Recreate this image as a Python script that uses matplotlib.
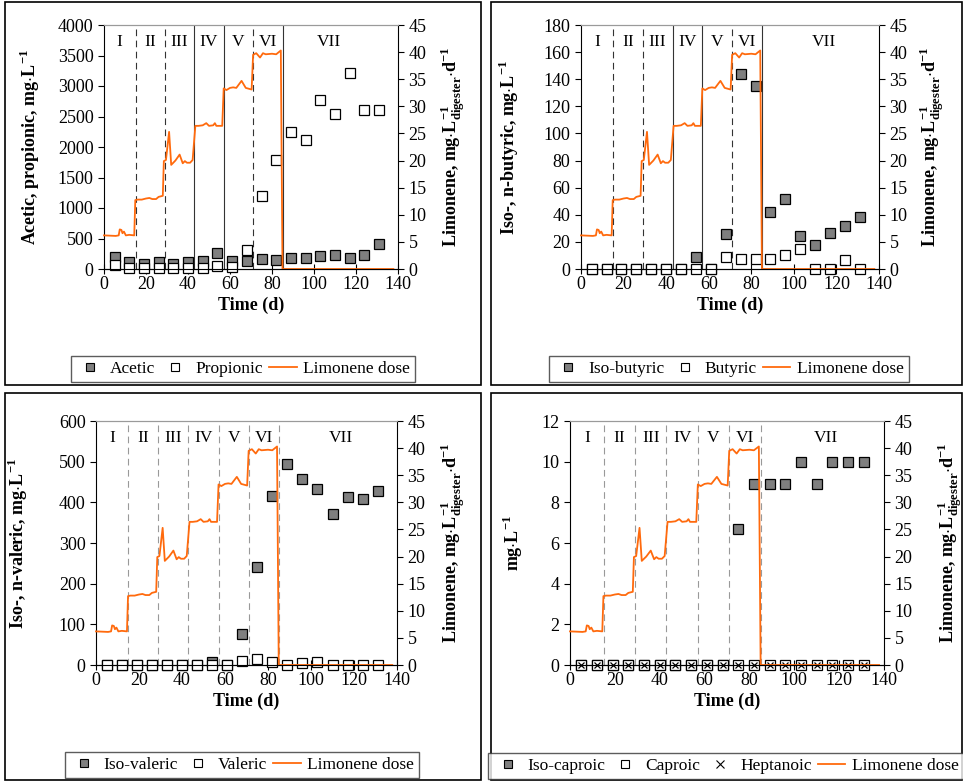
import matplotlib
matplotlib.use('Agg')
import matplotlib.pyplot as plt
from matplotlib.lines import Line2D
from matplotlib.patches import Rectangle

plt.rcParams['font.family'] = ['Liberation Serif', 'DejaVu Serif']
plt.rcParams['mathtext.fontset'] = 'custom'
plt.rcParams['mathtext.rm'] = 'Liberation Serif'
plt.rcParams['mathtext.bf'] = 'Liberation Serif:bold'
plt.rcParams['axes.unicode_minus'] = True

W, H = 963, 782

# sampling days (same for all acids)
days = [5, 12, 19, 26, 33, 40, 47, 54, 61, 68, 75, 82, 89, 96, 103, 110, 117, 124, 131]

acetic = [190, 110, 80, 110, 80, 110, 130, 270, 130, 130, 165, 155, 175, 175, 215, 225, 175, 225, 405]
propionic = [65, 10, 10, 10, 10, 10, 10, 55, 40, 310, 1200, 1790, 2250, 2110, 2770, 2540, 3220, 2600, 2600]
isobutyric = [0, 0, 0, 0, 0, 0, 0, 8.6, 0, 25.6, 144, 135, 42, 51.6, 24, 17.5, 26.6, 31.5, 38.6]
butyric = [0, 0, 0, 0, 0, 0, 0, 0, 0, 8.6, 7.6, 7.6, 7.6, 10, 15, 0, 0, 6.4, 0]
isovaleric = [0, 0, 0, 0, 0, 0, 0, 6.6, 0, 77, 242, 416, 495, 457, 434, 372, 414, 407, 428]
valeric = [0, 0, 0, 0, 0, 0, 0, 0, 0, 10, 15.6, 8, 0, 5, 8, 0, 0, 0, 0]
isocaproic = [0, 0, 0, 0, 0, 0, 0, 0, 0, 0, 6.67, 8.89, 8.89, 8.89, 10, 8.89, 10, 10, 10]
caproic = [0, 0, 0, 0, 0, 0, 0, 0, 0, 0, 0, 0, 0, 0, 0, 0, 0, 0, 0]
heptanoic = [0, 0, 0, 0, 0, 0, 0, 0, 0, 0, 0, 0, 0, 0, 0, 0, 0, 0, 0]

# limonene dose (mg/L_digester/d)
lim_days = [0, 5.6, 7.0, 7.5, 8.3, 8.8, 9.5, 10.4, 12, 14.4, 14.9, 16, 18, 20, 21.6, 23, 24.8, 26, 28,
            28.5, 29.5, 31, 32, 33, 34, 36, 37.5, 38.5, 39.5, 41, 42.2, 43.5, 45, 47, 48.7, 50, 52,
            52.8, 53.5, 56.3, 57, 58.3, 60, 61.5, 63, 65.5, 67.5, 70.3, 71, 72.5, 74.3, 75.7, 77, 80,
            82, 84.2, 85, 137.8]
lim_dose = [6.2, 6.1, 6.2, 7.3, 7.2, 6.6, 6.9, 6.2, 6.3, 6.2, 12.7, 12.8, 12.8, 13.0, 13.1, 12.9, 12.9, 13.3, 13.5,
            19.9, 20.1, 25.3, 19.2, 19.6, 20.0, 21.1, 19.5, 19.9, 19.6, 19.6, 20.1, 26.4, 26.4, 26.5, 26.9, 26.4, 26.5,
            26.9, 26.4, 26.4, 33.3, 33.0, 33.4, 33.5, 33.4, 34.7, 33.4, 33.1, 39.5, 39.8, 39.0, 39.8, 39.6, 39.7,
            39.6, 40.3, 0, 0]

phase_bounds = [15, 29, 43, 57, 71, 85]
phase_names = ['I', 'II', 'III', 'IV', 'V', 'VI', 'VII']
phase_x = [7.5, 22, 36, 50, 64, 78]

ORANGE = '#FF6A0D'
GRAY = '#7F7F7F'

fig = plt.figure(figsize=(W / 100, H / 100), dpi=100)


def px_axes(l, r, t, b):
    return fig.add_axes([l / W, 1 - b / H, (r - l) / W, (b - t) / H])


def panel(box, ylim, ystep, series, ylabel, ylab_x, rlab_x, vii_x, solid_idx, line_gray):
    ax = px_axes(*box)
    ax.set_xlim(0, 140)
    ax.set_ylim(0, ylim)
    ax.set_xticks(range(0, 141, 20))
    ax.set_yticks([ystep * i for i in range(int(round(ylim / ystep)) + 1)])
    for name, vals, kw in series:
        ax.plot(days, vals, linestyle='none', clip_on=False, zorder=3, **kw)
    ax.tick_params(axis='x', direction='inout', length=7, width=0.8, labelsize=13, pad=1.5)
    ax.tick_params(axis='y', direction='out', length=4, width=0.8, labelsize=13)
    ax.spines['top'].set_color('#9a9a9a')
    ax.spines['right'].set_visible(False)
    ax.set_ylabel(ylabel, fontsize=13, fontweight='bold')
    ax.yaxis.set_label_coords(ylab_x, 0.5)
    ax.set_xlabel('Time (d)', fontsize=13, fontweight='bold')
    ax.xaxis.set_label_coords(0.5, -0.115)

    # phase separators
    for i, xb in enumerate(phase_bounds):
        if line_gray:
            ax.axvline(xb, color='#999999', lw=0.8, ls=(0, (6, 4)), zorder=1)
        elif i in solid_idx:
            ax.axvline(xb, color='#333333', lw=0.8, zorder=1)
        else:
            ax.axvline(xb, color='#333333', lw=0.8, ls=(0, (6, 4)), zorder=1)
    for name, xp in zip(phase_names, phase_x + [vii_x]):
        ax.text(xp, 0.93, name, transform=ax.get_xaxis_transform(), ha='center', va='center', fontsize=12.5)

    ax2 = ax.twinx()
    ax2.plot(lim_days, lim_dose, color=ORANGE, lw=1.3, clip_on=False)
    ax2.set_ylim(0, 45)
    ax2.set_yticks(range(0, 46, 5))
    ax2.tick_params(axis='y', direction='out', length=4, width=0.8, labelsize=13)
    ax2.spines['top'].set_color('#9a9a9a')
    ax2.spines['left'].set_visible(False)
    ax2.set_ylabel(r'Limonene, mg$\cdot$L$_{\mathbf{digester}}^{\mathbf{-1}}$$\cdot$d$^{\mathbf{-1}}$',
                   fontsize=13, fontweight='bold')
    ax2.yaxis.set_label_coords(rlab_x, 0.5)
    return ax


filled = dict(marker='s', ms=6.5, mfc=GRAY, mec='black', mew=0.9)
opened = dict(marker='s', ms=6.5, mfc='white', mec='black', mew=0.9)
crossm = dict(marker='x', ms=5, mec='black', mew=0.9)

panel((104, 398, 25, 269), 4000, 500,
      [('Acetic', acetic, filled), ('Propionic', propionic, opened)],
      r'Acetic, propionic, mg$\cdot$L$^{\mathbf{-1}}$', -0.21, 1.14, 107, [2, 3, 5], False)
panel((581, 879, 25, 269), 180, 20,
      [('Iso-butyric', isobutyric, filled), ('Butyric', butyric, opened)],
      r'Iso-, n-butyric, mg$\cdot$L$^{\mathbf{-1}}$', -0.2, 1.13, 114, [2, 3, 5], False)
panel((96, 397, 421, 665), 600, 100,
      [('Iso-valeric', isovaleric, filled), ('Valeric', valeric, opened)],
      r'Iso-, n-valeric, mg$\cdot$L$^{\mathbf{-1}}$', -0.22, 1.14, 114, [], True)
panel((570, 884, 421, 665), 12, 2,
      [('Iso-caproic', isocaproic, filled), ('Caproic', caproic, opened), ('Heptanoic', heptanoic, crossm)],
      r'mg$\cdot$L$^{\mathbf{-1}}$', -0.143, 1.165, 114, [], True)

# panel frames
for (l, r, t, b) in [(5, 481, 2, 385), (491, 962, 2, 385), (5, 481, 393, 780), (491, 962, 393, 780)]:
    fig.add_artist(Rectangle((l / W, 1 - b / H), (r - l) / W, (b - t) / H, transform=fig.transFigure,
                             fill=False, ec='black', lw=1.2))

leg_filled = Line2D([], [], ls='none', marker='s', ms=5.5, mfc=GRAY, mec='black', mew=0.8)
leg_open = Line2D([], [], ls='none', marker='s', ms=5.5, mfc='white', mec='black', mew=0.8)
leg_cross = Line2D([], [], ls='none', marker='x', ms=5.5, mec='black', mew=0.8)
leg_line = Line2D([], [], color=ORANGE, lw=1.3)


def legend(handles, labels, cx, cy):
    lg = fig.legend(handles, labels, loc='center', bbox_to_anchor=(cx / W, 1 - cy / H), ncol=len(handles),
                    frameon=True, fancybox=False, edgecolor='#333333', fontsize=12.5, handlelength=1.6,
                    handletextpad=0.35, columnspacing=0.35, borderpad=0.3, borderaxespad=0)
    lg.get_frame().set_linewidth(1.0)


legend([leg_filled, leg_open, leg_line], ['Acetic', 'Propionic', 'Limonene dose'], 243, 369)
legend([leg_filled, leg_open, leg_line], ['Iso-butyric', 'Butyric', 'Limonene dose'], 729, 369)
legend([leg_filled, leg_open, leg_line], ['Iso-valeric', 'Valeric', 'Limonene dose'], 242, 765)
legend([leg_filled, leg_open, leg_cross, leg_line], ['Iso-caproic', 'Caproic', 'Heptanoic', 'Limonene dose'], 726, 766)

fig.savefig('out.png', dpi=100)
